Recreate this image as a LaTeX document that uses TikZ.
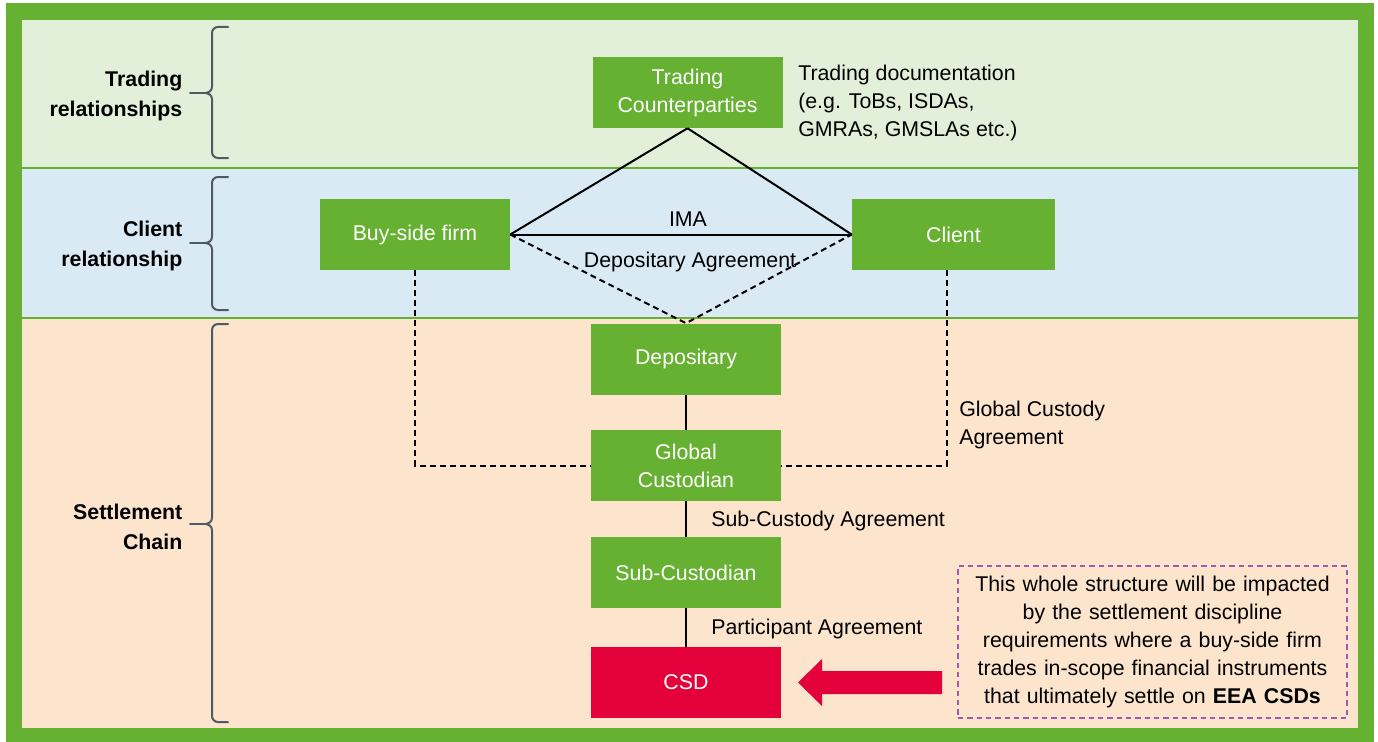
\documentclass[tikz,border=0pt]{standalone}
\usepackage{fontspec}
\setmainfont{Liberation Sans}
\definecolor{framegreen}{RGB}{102,177,50}
\definecolor{boxgreen}{RGB}{102,177,50}
\definecolor{bandA}{RGB}{226,240,217}
\definecolor{bandB}{RGB}{218,234,245}
\definecolor{bandC}{RGB}{253,228,204}
\definecolor{csdred}{RGB}{228,0,59}
\definecolor{bracecol}{RGB}{80,90,100}
\definecolor{purp}{RGB}{160,90,180}
\begin{document}
\begin{tikzpicture}[x=0.75pt,y=-0.75pt, font=\fontsize{16}{21}\selectfont,
  gbox/.style={fill=boxgreen, text=white, minimum width=142.5pt, minimum height=53.25pt, align=center, inner sep=2pt},
  conn/.style={line width=1.5pt, black},
  dconn/.style={conn, dash pattern=on 4.5pt off 3pt},
  bracepath/.style={line width=1.5pt, bracecol, line cap=round},
  sidelab/.style={font=\fontsize{16}{22.5}\selectfont\bfseries, align=right, anchor=east},
  note/.style={align=left, anchor=west, inner sep=0pt}]

\useasboundingbox (0,0) rectangle (1378,742);
\fill[white] (0,0) rectangle (1378,742);
\fill[framegreen] (6,3) rectangle (1374,742);
\fill[bandA] (22,20) rectangle (1358,168);
\fill[bandB] (22,168) rectangle (1358,318);
\fill[bandC] (22,318) rectangle (1358,728);
\draw[framegreen, line width=1.5pt] (22,168) -- (1358,168);
\draw[framegreen, line width=1.5pt] (22,318) -- (1358,318);

% braces
\foreach \t/\m/\b in {27/93/158, 177/243/310, 324/524/722} {
  \draw[bracepath] (228,\t) -- (218,\t) to[out=180,in=90] (212,{\t+6}) -- (212,{\m-6})
     to[out=-90,in=0] (205,\m) to[out=0,in=90] (212,{\m+6}) -- (212,{\b-6})
     to[out=-90,in=180] (218,\b) -- (228,\b);
  \draw[bracepath] (205,\m) -- (190,\m);
}
\node[sidelab] (l1) at (187,96) {Trading\\relationships};
\node[sidelab] (l2) at (187,246) {Client\\relationship};
\node[sidelab] (l3) at (187,527) {Settlement\\Chain};

% boxes
\node[gbox] (tc) at (687.5,92.5) {Trading\\Counterparties};
\node[gbox] (buy) at (415,234.5) {Buy-side firm};
\node[gbox, minimum width=152.25pt] (client) at (953.5,234.5) {Client};
\node[gbox] (dep) at (686,359) {Depositary};
\node[gbox] (gc) at (686,465.5) {Global\\Custodian};
\node[gbox] (sc) at (686,572.5) {Sub-Custodian};
\node[gbox, fill=csdred] (csd) at (686,682.5) {CSD};

% connectors
\draw[conn] (tc.south) -- (buy.east);
\draw[conn] (tc.south) -- (client.west);
\draw[conn] (buy.east) -- (client.west);
\draw[dconn] (buy.east) -- (dep.north) -- (client.west);
\draw[dconn] (buy.south) |- (gc.west);
\draw[dconn] ([xshift=-5.25pt]client.south) |- (gc.east);
\draw[conn] (dep.south) -- (gc.north);
\draw[conn] (gc.south) -- (sc.north);
\draw[conn] (sc.south) -- (csd.north);

% labels
\node (ima) at (688,219) {IMA};
\node (depag) at (690,262) {Depositary Agreement};
\node[note] (tdoc) at (798,103) {Trading documentation\\(e.g. ToBs, ISDAs,\\GMRAs, GMSLAs etc.)};
\node[note] (gca) at (959,425) {Global Custody\\Agreement};
\node[note] (sca) at (711,521) {Sub-Custody Agreement};
\node[note] (pa) at (711,629) {Participant Agreement};

% impact note
\node[draw=purp, line width=1.3pt, dash pattern=on 4pt off 3pt, text width=275pt, inner xsep=8.4pt,
      minimum height=114pt, align=center] (impact) at (1152.5,642)
  {This whole structure will be impacted\\by the settlement discipline\\requirements where a buy-side firm\\trades in-scope financial instruments\\that ultimately settle on \textbf{EEA CSDs}};

% red arrow
\fill[csdred] (942,671) -- (822,671) -- (822,659) -- (798,682.5) -- (822,706) -- (822,694) -- (942,694) -- cycle;
\end{tikzpicture}
\end{document}
